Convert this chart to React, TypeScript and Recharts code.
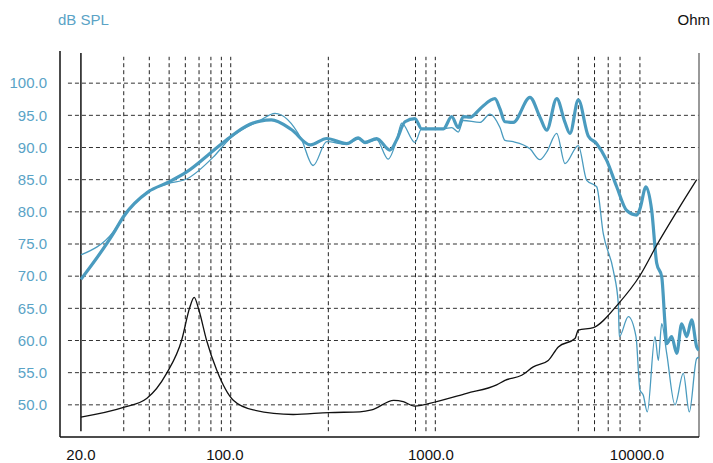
import React from "react";
import {
  ComposedChart,
  Line,
  XAxis,
  YAxis,
  ReferenceLine,
} from "recharts";

// Frequencies (Hz) and levels (dB SPL) – thick curve (on-axis)
const onAxisFreq = [20, 28.7, 32.1, 42.4, 53.1, 65.2, 87.7, 105.8, 132, 148, 168, 210, 260, 312, 390, 444, 478, 545, 632, 682, 748, 836, 901, 1150, 1260, 1357, 1435, 1547, 1729, 1934, 2045, 2163, 2287, 2510, 3024, 3382, 3646, 4077, 4473, 4730, 5190, 5800, 6374, 7128, 7972, 8914, 9968, 10342, 11058, 11790, 12468, 13184, 13678, 13940, 14740, 15586, 16482, 17430, 18432, 19492, 20000];
const onAxisDb = [69.5, 76.6, 79.2, 83.1, 84.6, 86.2, 89.5, 91.6, 93.6, 94.1, 94.3, 92.8, 90.4, 91.4, 90.6, 91.5, 90.8, 91.4, 89.6, 91.2, 94.0, 94.5, 92.9, 92.9, 94.8, 93.1, 94.8, 94.7, 96.0, 97.3, 97.6, 96.0, 94.0, 93.9, 97.8, 94.7, 92.7, 97.6, 93.9, 92.2, 97.4, 91.8, 90.6, 88.0, 83.9, 80.2, 79.5, 80.5, 83.9, 80.2, 72.0, 69.9, 62.6, 59.5, 60.6, 58.0, 62.6, 60.6, 63.2, 59.0, 58.5];

// Thin curve (off-axis)
const offAxisFreq = [20, 28.7, 32.1, 42.4, 53.1, 65.2, 87.7, 105.8, 148, 175, 235, 268, 312, 390, 444, 478, 545, 620, 682, 721, 836, 901, 1150, 1260, 1357, 1435, 1729, 1934, 2163, 2287, 2510, 3024, 3382, 3646, 4077, 4473, 5190, 5702, 6374, 6862, 7674, 8117, 8208, 9076, 9892, 10342, 10730, 11222, 12232, 12690, 13184, 13940, 15292, 16778, 17946, 19492, 20000];
const offAxisDb = [73.3, 76.9, 79.2, 83.1, 84.4, 85.1, 88.5, 91.4, 94.2, 95.3, 91.3, 87.2, 90.9, 90.5, 91.3, 90.6, 91.2, 88.2, 91.2, 93.8, 90.8, 92.9, 92.9, 93.1, 92.4, 94.2, 93.9, 95.2, 93.1, 91.1, 90.9, 89.8, 88.1, 89.3, 92.2, 87.5, 90.3, 84.9, 83.9, 76.6, 70.9, 65.7, 60.6, 63.7, 60.6, 52.3, 51.5, 48.9, 60.6, 56.9, 62.6, 58.0, 50.0, 54.9, 48.9, 57.2, 57.4];

// Impedance (Ohm)
const impFreq = [20, 32.2, 41.7, 52.1, 61.6, 67.6, 70.9, 74.8, 81.5, 91.2, 109.8, 137.2, 214.6, 320, 452, 515.6, 660, 733.6, 830, 1066, 1491, 2084, 2287, 2757, 3138, 3710, 4150, 5001, 5190, 6139, 8117, 10342, 12468, 15586, 19492];
const impOhm = [3.1, 4.6, 6.0, 9.9, 15.0, 20.2, 21.7, 19.7, 15.0, 10.4, 5.7, 4.2, 3.5, 3.8, 3.9, 4.2, 5.7, 5.5, 4.8, 5.5, 6.8, 8.1, 8.8, 9.6, 10.9, 11.9, 14.0, 15.3, 16.6, 17.0, 20.7, 25.1, 29.8, 35.0, 40.0];

const xTicks = [20, 100, 1000, 10000];
const yTicks = [50, 55, 60, 65, 70, 75, 80, 85, 90, 95, 100];
const gridFreqs = [30, 40, 50, 60, 70, 80, 90, 100, 300, 800, 900, 1000, 5000, 6000, 7000, 8000, 10000];

const onAxis = onAxisFreq.map((f, i) => ({ f, v: onAxisDb[i] }));
const offAxis = offAxisFreq.map((f, i) => ({ f, v: offAxisDb[i] }));
const impedance = impFreq.map((f, i) => ({ f, z: impOhm[i] }));

const X_MIN = 15.83;
const X_MAX = 20000;
// the source chart draws its vertical grid on a slightly offset log scale
const GRID_MIN = 14.64;
const GRID_MAX = 19446;
const BLUE = "#4a9bbf";
const LABEL_BLUE = "#5aa3c6";
const FONT = "'Liberation Sans', Arial, sans-serif";

export default function App() {
  return (
    <div style={{ position: "absolute", left: 0, top: 0, width: 713, height: 463, background: "#fff", fontFamily: FONT }}>
      <div style={{ position: "absolute", left: 58, top: 11, fontSize: 15, lineHeight: "17px", color: LABEL_BLUE }}>dB SPL</div>
      <div style={{ position: "absolute", right: 3, top: 11, fontSize: 15, lineHeight: "17px", color: "#111" }}>Ohm</div>
      <ComposedChart width={713} height={463} margin={{ top: 51, right: 14, bottom: 0, left: 10 }}>
        <XAxis
          dataKey="f"
          type="number"
          scale="log"
          domain={[X_MIN, X_MAX]}
          ticks={xTicks}
          tickFormatter={(v: number) => v.toFixed(1)}
          allowDataOverflow
          height={26}
          tickLine={false}
          tickSize={6}
          tickMargin={6}
          axisLine={{ stroke: "#111", strokeWidth: 1.5 }}
          tick={{ fill: "#111", fontSize: 15, fontFamily: FONT }}
        />
        <XAxis
          xAxisId="grid"
          dataKey="f"
          type="number"
          scale="log"
          domain={[GRID_MIN, GRID_MAX]}
          allowDataOverflow
          hide
        />
        <YAxis
          yAxisId="spl"
          type="number"
          domain={[45, 105]}
          ticks={yTicks}
          tickFormatter={(v: number) => v.toFixed(1)}
          allowDataOverflow
          width={50}
          tickLine={false}
          tickSize={6}
          tickMargin={7}
          axisLine={false}
          tick={{ fill: LABEL_BLUE, fontSize: 15, fontFamily: FONT }}
        />
        <YAxis
          yAxisId="ohm"
          orientation="right"
          type="number"
          domain={[0, 60]}
          allowDataOverflow
          width={0}
          tick={false}
          tickLine={false}
          axisLine={false}
        />
        {yTicks.map((v) => (
          <ReferenceLine
            key={"h" + v}
            yAxisId="spl"
            segment={[{ x: 17.3, y: v }, { x: X_MAX, y: v }]}
            stroke="#333"
            strokeDasharray="4 3"
            strokeWidth={1}
          />
        ))}
        {gridFreqs.map((f) => (
          <ReferenceLine
            key={"v" + f}
            xAxisId="grid"
            yAxisId="spl"
            segment={[{ x: f, y: 45.9 }, { x: f, y: 104.1 }]}
            stroke="#222"
            strokeDasharray="4 3"
            strokeWidth={1}
          />
        ))}
        <ReferenceLine
          yAxisId="spl"
          segment={[{ x: 20, y: 45.9 }, { x: 20, y: 104.7 }]}
          stroke="#111"
          strokeWidth={1.5}
        />
        <ReferenceLine
          yAxisId="spl"
          segment={[{ x: X_MIN, y: 45 }, { x: X_MIN, y: 105 }]}
          stroke="#111"
          strokeWidth={1.5}
        />
        <ReferenceLine
          yAxisId="spl"
          segment={[{ x: X_MAX, y: 45 }, { x: X_MAX, y: 104.7 }]}
          stroke="#777"
          strokeWidth={1.5}
        />
        <Line
          yAxisId="spl"
          data={offAxis}
          dataKey="v"
          type="monotone"
          stroke={BLUE}
          strokeWidth={1.3}
          dot={false}
          isAnimationActive={false}
        />
        <Line
          yAxisId="spl"
          data={onAxis}
          dataKey="v"
          type="monotone"
          stroke={BLUE}
          strokeWidth={3.2}
          dot={false}
          isAnimationActive={false}
        />
        <Line
          yAxisId="ohm"
          data={impedance}
          dataKey="z"
          type="monotone"
          stroke="#111"
          strokeWidth={1.3}
          dot={false}
          isAnimationActive={false}
        />
      </ComposedChart>
    </div>
  );
}
